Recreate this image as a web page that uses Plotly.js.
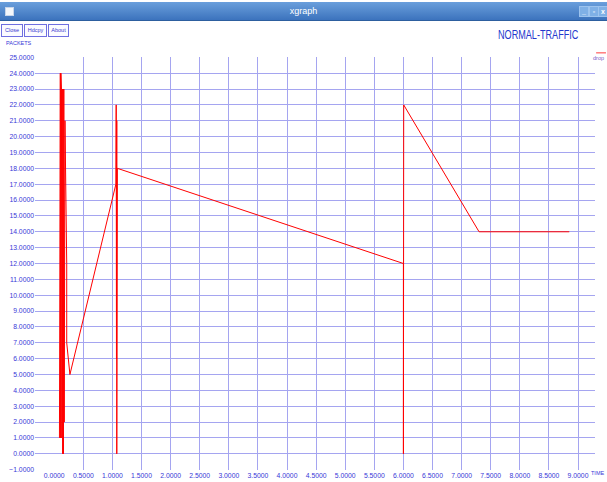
<!DOCTYPE html>
<html>
<head>
<meta charset="utf-8">
<script src="https://cdn.plot.ly/plotly-3.0.1.min.js"></script>
<style>
  html, body { margin: 0; padding: 0; background: #ffffff; }
  #wrap { position: relative; width: 607px; height: 482px; overflow: hidden; }
  #chart { position: absolute; left: 0; top: 0; width: 607px; height: 482px; }
  #titlebar {
    position: absolute; left: 0; top: 2px; width: 607px; height: 18px;
    background: linear-gradient(#6a9fdc, #3c73bd);
    border-bottom: 1px solid #2d5f9f;
    color: #ffffff; font: 9px "Liberation Sans", sans-serif;
    text-align: center; line-height: 18px;
  }
  #titlebar .icon {
    position: absolute; left: 5px; top: 5px; width: 7px; height: 7px;
    background: #f4f7fb; border: 1px solid #c8d6ea;
  }
  #titlebar .wbtn {
    position: absolute; top: 4px; width: 8px; height: 9px;
    background: #7fb0e6; border: 1px solid #9cc3ee;
    font: bold 7px "Liberation Sans", sans-serif; line-height: 9px; color: #fff;
  }
  .btn {
    position: absolute; top: 24px; height: 11px;
    border: 1px solid #6f6fe0; background: #fbfbff;
    font: 5.5px "Liberation Sans", sans-serif;
    color: #3a3ad0; line-height: 11px; text-align: center;
  }
  #charttitle {
    position: absolute; left: 498px; top: 28px; width: 120px; height: 14px;
    font: 13px "Liberation Sans", sans-serif; color: rgb(35,55,205);
    line-height: 14px; white-space: nowrap;
    transform: scaleX(0.7); transform-origin: 0 0;
  }
</style>
</head>
<body>
<div id="wrap">
  <div id="chart"></div>
  <div id="titlebar">xgraph
    <div class="icon"></div>
    <div class="wbtn" style="left:579px">_</div>
    <div class="wbtn" style="left:589px">&#9643;</div>
    <div class="wbtn" style="left:598px">x</div>
  </div>
  <div class="btn" style="left:1px; width:20px;">Close</div>
  <div class="btn" style="left:24px; width:21px;">Hdcpy</div>
  <div class="btn" style="left:48px; width:19px;">About</div>
  <div id="charttitle">NORMAL-TRAFFIC</div>
</div>
<script>
// Dropped packets over time (xgraph trace "drop")
const time = [0.090, 0.095, 0.100, 0.105, 0.110, 0.115, 0.120, 0.125, 0.130, 0.138,
              0.146, 0.152, 0.158, 0.165, 0.172, 0.185,
              0.215, 0.215, 0.270,
              1.060, 1.065, 1.070, 1.075, 1.075, 1.080, 1.080, 1.085,
              6.000, 6.000, 6.005, 6.005,
              7.300, 8.850];
const drops = [1, 24, 1, 24, 1, 24, 1, 23, 1, 23,
               0, 23, 0, 23, 2, 21,
               12, 7, 5,
               17, 22, 6, 21, 0, 8, 12, 18,
               12, 0, 6, 22,
               14, 14];

const seriesName = "drop";
const yLabel = "PACKETS";
const xLabel = "TIME";

const labelColor = "rgb(55,55,215)";
const gridColor = "rgb(165,165,240)";
const smallFont = "Liberation Sans, sans-serif";
const tickFont = { family: smallFont, size: 6.8, color: labelColor };

const trace = {
  x: time,
  y: drops,
  type: "scatter",
  mode: "lines",
  name: seriesName,
  line: { color: "rgb(255,0,0)", width: 1 },
  showlegend: false,
  hoverinfo: "skip"
};

const layout = {
  width: 607,
  height: 482,
  margin: { l: 35, r: 12, t: 57, b: 12, pad: 0 },
  paper_bgcolor: "#ffffff",
  plot_bgcolor: "#ffffff",
  xaxis: {
    range: [-0.330, 9.292],
    tick0: 0, dtick: 0.5,
    tickformat: ".4f",
    showgrid: true, gridcolor: gridColor, gridwidth: 1,
    zeroline: true, zerolinecolor: "rgba(0,0,0,0)",
    showline: false, ticks: "",
    tickfont: tickFont,
    fixedrange: true
  },
  yaxis: {
    range: [-1.02, 25.02],
    tick0: 0, dtick: 1,
    tickformat: ".4f",
    showgrid: true, gridcolor: gridColor, gridwidth: 1,
    zeroline: false,
    showline: false, ticks: "",
    tickfont: tickFont,
    fixedrange: true
  },
  annotations: [
    { text: yLabel, xref: "paper", yref: "paper", x: -0.056, y: 1.034,
      xanchor: "left", yanchor: "middle", showarrow: false,
      font: { family: smallFont, size: 5.5, color: labelColor } },
    { text: xLabel, xref: "paper", yref: "paper", x: 1.0196, y: -0.008,
      xanchor: "right", yanchor: "middle", showarrow: false,
      font: { family: smallFont, size: 5.5, color: labelColor } },
    { text: seriesName, xref: "paper", yref: "paper", x: 1.0196, y: 0.998,
      xanchor: "right", yanchor: "middle", showarrow: false,
      font: { family: smallFont, size: 5.5, color: "rgb(120,90,200)" } }
  ],
  shapes: [
    // legend swatch above the series name
    { type: "line", xref: "paper", yref: "paper", x0: 1.002, x1: 1.0196, y0: 1.01, y1: 1.01,
      line: { color: "rgb(255,60,60)", width: 1 } }
  ]
};

Plotly.newPlot("chart", [trace], layout, { displayModeBar: false, staticPlot: true });
</script>
</body>
</html>
